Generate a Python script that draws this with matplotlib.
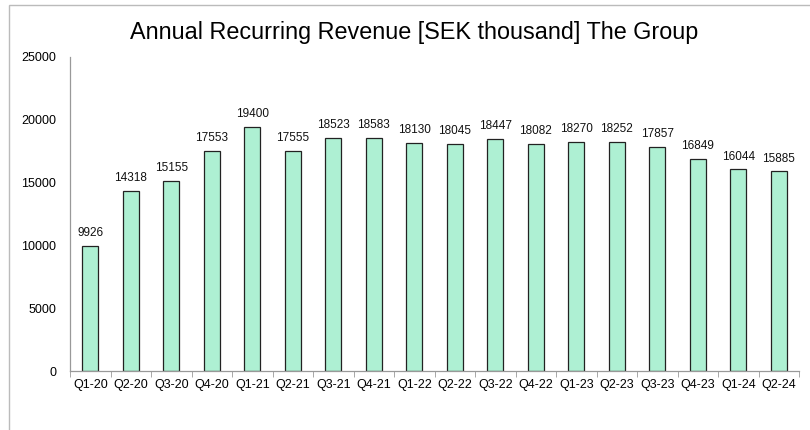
import matplotlib.pyplot as plt
from matplotlib.patches import Rectangle
import numpy as np

quarters = ["Q1-20", "Q2-20", "Q3-20", "Q4-20", "Q1-21", "Q2-21", "Q3-21", "Q4-21",
            "Q1-22", "Q2-22", "Q3-22", "Q4-22", "Q1-23", "Q2-23", "Q3-23", "Q4-23",
            "Q1-24", "Q2-24"]
arr = [9926, 14318, 15155, 17553, 19400, 17555, 18523, 18583, 18130, 18045,
       18447, 18082, 18270, 18252, 17857, 16849, 16044, 15885]

plt.rcParams['font.family'] = ['Liberation Sans', 'DejaVu Sans']

fig = plt.figure(figsize=(8.1, 4.3), dpi=100)
ax = fig.add_axes([70 / 810, 1 - 371 / 430, 729 / 810, 314 / 430])

x = np.arange(len(quarters))
ax.bar(x, arr, width=0.4, color="#aef0d3", edgecolor="#222222", linewidth=0.9)
for xi, v in zip(x, arr):
    ax.annotate(str(v), (xi, v), xytext=(0, 5), textcoords="offset points",
                ha="center", va="bottom", fontsize=8.5, color="#111111")

ax.set_xlim(-0.5, len(quarters) - 0.5)
ax.set_ylim(0, 25000)
ax.set_yticks(range(0, 25001, 5000))
ax.set_xticks(x)
ax.set_xticklabels(quarters)
ax.set_xticks(np.arange(-0.5, len(quarters), 1), minor=True)
ax.tick_params(axis="x", which="major", length=0, pad=6, labelsize=9)
ax.tick_params(axis="x", which="minor", length=4, color="#999999")
ax.tick_params(axis="y", length=0, pad=10, labelsize=9)

for s in ["top", "right"]:
    ax.spines[s].set_visible(False)
for s in ["left", "bottom"]:
    ax.spines[s].set_color("#999999")
    ax.spines[s].set_linewidth(0.9)

fig.text(414 / 810, 1 - 32 / 430, "Annual Recurring Revenue [SEK thousand] The Group",
         ha="center", va="center", fontsize=16.8)

# outer frame (cropped at right and bottom in the original)
fig.patches.append(Rectangle((9 / 810, -0.1), 1.2, 1 - 5 / 430 + 0.1,
                             transform=fig.transFigure, fill=False,
                             edgecolor="#bbbbbb", linewidth=1))

fig.savefig("out.png", dpi=100)
